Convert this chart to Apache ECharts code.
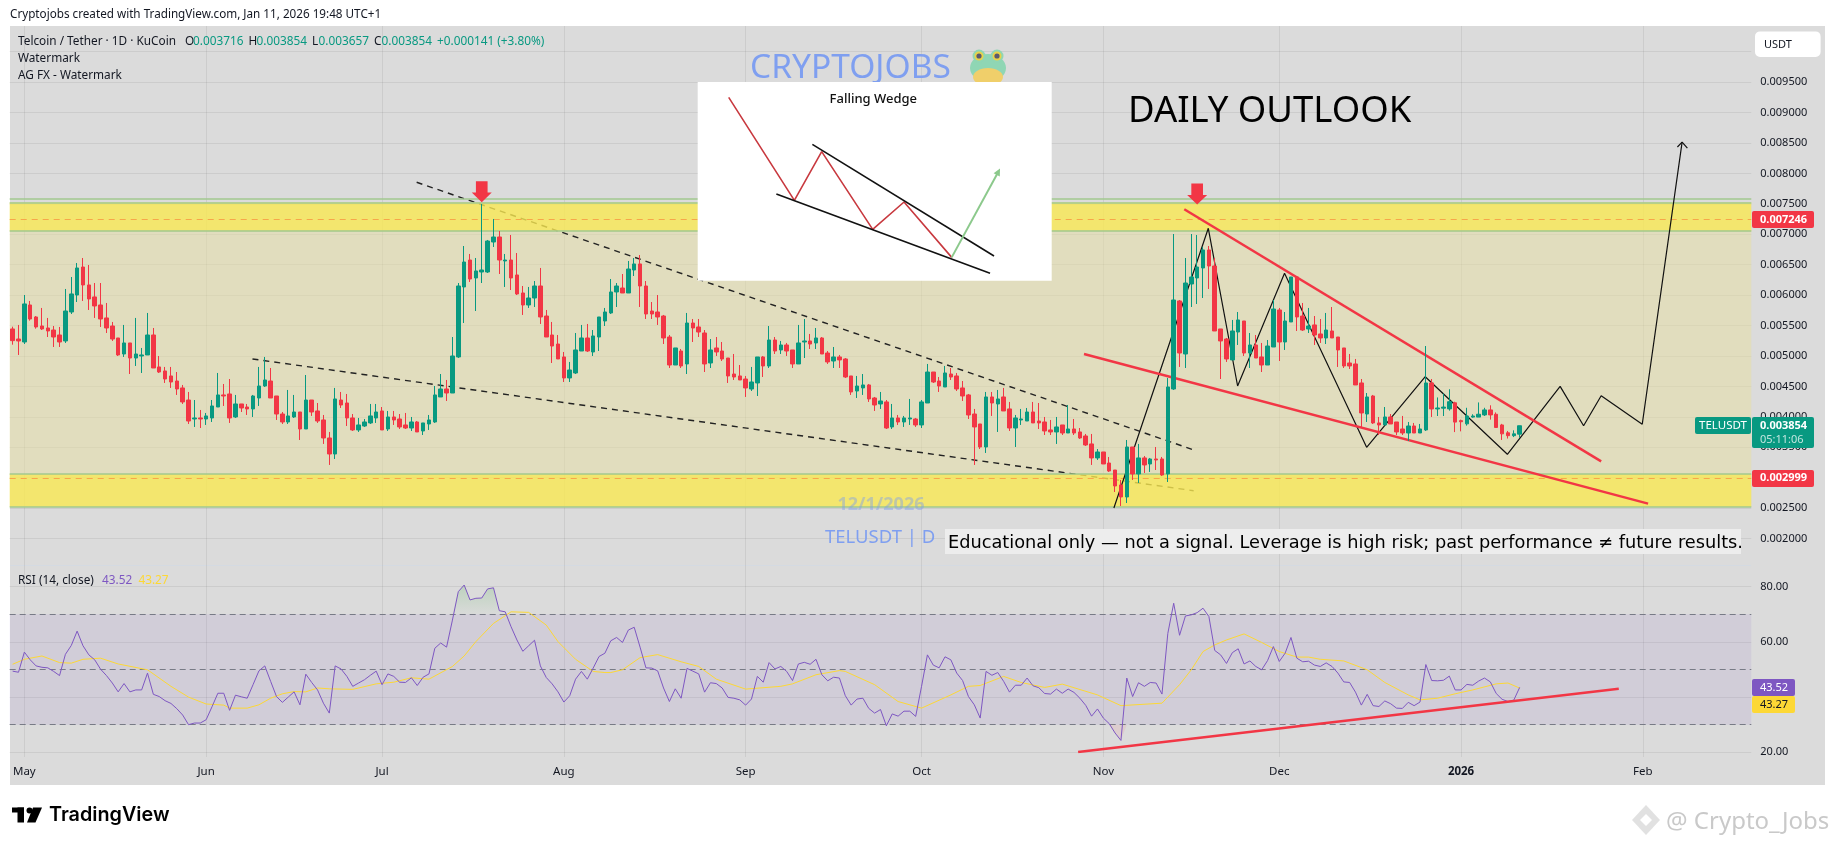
<!DOCTYPE html>
<html>
<head>
<meta charset="utf-8">
<title>TELUSDT daily outlook</title>
<script src="https://cdn.jsdelivr.net/npm/echarts@6/dist/echarts.min.js"></script>
<style>
  html, body { margin: 0; padding: 0; background: #fff; }
  #chart { width: 1835px; height: 845px; }
</style>
</head>
<body>
<div id="chart"></div>
<script>
// candles, in millionths of a USDT, first candle is Apr 29 2025
var opens = [
5444,5279,5230,5838,5641,5493,5460,5427,5345,5247,
5723,6002,6462,6167,5970,5838,5625,5493,5296,5033,
5214,4967,5000,5017,5345,4820,4754,4672,4589,4475,
4277,3965,3982,3965,3982,4162,4360,4376,3998,4212,
4162,4130,4310,4507,4589,4343,4047,3916,3998,4080,
3801,4277,4097,3949,3653,3390,4277,4228,3982,3785,
3850,3900,3982,4097,3801,3998,3965,3867,3817,3916,
3768,3883,3916,4327,4458,4392,4984,6134,6577,6282,
6380,6380,6873,6955,6561,6577,6331,6035,5838,5953,
6150,5657,5345,5197,4984,4639,4721,5082,5296,5066,
5312,5575,5707,6052,6117,6035,6413,6512,6150,5739,
5723,5657,5312,4852,5082,4869,5542,5477,5378,4885,
5132,5082,4967,4704,4672,4622,4458,4557,4984,4836,
5263,5099,5181,5099,4869,5230,5247,5214,5296,5049,
4918,4984,4951,4672,4425,4475,4524,4310,4212,4245,
3834,3982,3916,3965,3965,3867,4228,4737,4589,4491,
4704,4672,4475,4360,4047,3883,3505,4327,4212,4327,
4130,3817,3949,3932,4080,3932,3916,3785,3752,3867,
3735,3801,3752,3686,3555,3325,3423,3242,3127,2881,
2684,3505,3062,3325,3226,3308,3308,3062,4458,5904,
5033,6183,6282,6446,6742,6479,5444,5279,4935,5394,
5575,5049,5181,4984,4852,5148,5756,5230,5559,6298,
5657,5444,5510,5362,5296,5411,5312,5132,4885,4869,
4557,4047,4343,3900,3867,3998,3916,3801,3735,3850,
3735,3785,4557,4130,4143,4131,4231,3938,3885,3996,
3996,4032,4114,4043,3867,3738,3691,3716];
var closes = [
5252,5247,5855,5608,5477,5444,5411,5312,5230,5739,
6019,6446,6167,5937,5822,5608,5460,5279,5017,5214,
4967,5033,5017,5345,4803,4737,4622,4573,4458,4245,
3932,3982,3965,4015,4179,4360,4343,3982,4212,4146,
4130,4343,4507,4606,4310,4047,3916,4015,4080,3801,
4277,4080,3932,3653,3390,4294,4195,3982,3785,3867,
3916,4015,4080,3785,3998,3949,3834,3817,3916,3752,
3900,3949,4360,4458,4392,5000,6150,6544,6265,6397,
6413,6889,6955,6577,6577,6282,6019,5838,5953,6150,
5641,5312,5164,4951,4639,4770,5099,5296,5082,5329,
5641,5723,6052,6150,6035,6429,6512,6150,5690,5690,
5641,5296,4852,5132,4836,5542,5460,5394,4869,5099,
5066,4951,4672,4655,4606,4475,4573,4984,4836,5263,
5082,5181,5082,4869,5214,5247,5197,5296,5033,4902,
4984,4935,4655,4409,4507,4524,4294,4195,4261,3817,
3982,3916,3982,3982,3867,4245,4737,4573,4507,4721,
4655,4458,4343,4031,3834,3505,4327,4228,4294,4097,
3817,3982,3965,4080,3900,3900,3768,3752,3834,3735,
3801,3735,3653,3538,3325,3423,3226,3111,2865,2684,
3505,3062,3325,3210,3308,3292,3045,4491,5920,5049,
6199,6298,6462,6742,6479,5411,5247,4951,5411,5592,
5049,5181,4967,4852,5164,5772,5230,5575,6298,5641,
5427,5493,5345,5296,5427,5296,5099,4836,4836,4524,
4064,4327,3900,3867,3998,3883,3752,3735,3850,3735,
3801,4557,4130,4146,4161,4249,3914,3920,4014,4014,
4043,4114,4032,3826,3721,3691,3721,3854];
var lows = [
5186,5017,5197,5581,5449,5427,5312,5148,5148,5214,
5690,5887,5904,5756,5625,5477,5378,5247,5000,4984,
4704,4836,4721,5017,4803,4721,4557,4475,4360,4212,
3883,3834,3817,3867,3916,4162,4179,3900,3982,4080,
4031,3998,4179,4491,4310,3949,3883,3883,3982,3620,
3801,4015,3900,3555,3210,3308,4146,3850,3768,3752,
3834,3883,3900,3785,3768,3867,3801,3801,3768,3752,
3702,3785,3900,4327,4261,4392,4967,5542,6216,5739,
6199,6364,6791,6347,6134,6084,6002,5674,5789,5805,
5526,5312,4885,4951,4573,4573,4704,5082,5066,5000,
5082,5493,5690,5805,6035,6035,6314,5805,5608,5608,
5510,5197,4803,4852,4803,4704,5230,5312,4737,4803,
5000,4918,4557,4606,4606,4327,4425,4343,4655,4803,
5033,5033,5000,4803,4869,4967,5115,5115,5033,4869,
4803,4803,4639,4360,4310,4360,4245,4097,4130,3801,
3801,3867,3834,3867,3834,3817,4228,4557,4409,4491,
4606,4425,4261,3965,3210,3472,3407,4015,3752,4097,
3768,3505,3867,3932,3900,3801,3702,3702,3555,3702,
3735,3702,3637,3522,3210,3292,3226,3095,2766,2536,
2585,2963,2914,3078,3095,3127,3029,2930,4442,4820,
4803,5805,5854,5953,6101,5411,4622,4902,4935,5181,
5000,4803,4967,4737,4852,5148,4918,5099,5559,5411,
5411,5378,5181,5214,5197,5296,4820,4803,4787,4524,
3834,3916,3883,3702,3867,3883,3702,3702,3604,3735,
3735,3768,3998,4014,4014,4102,3750,3762,3856,3985,
3996,4014,3955,3826,3621,3644,3668,3657];
var highs = [
5482,5510,6002,5904,5657,5789,5625,5493,5477,6101,
6298,6528,6610,6495,6199,6199,5871,5559,5296,5510,
5214,5625,5132,5707,5460,5000,4820,4820,4737,4524,
4409,4277,4113,4064,4277,4721,4540,4622,4360,4212,
4212,4360,4820,4984,4803,4343,4080,4442,4360,4080,
4688,4277,4228,4031,3752,4475,4409,4376,4047,3982,
3965,4212,4212,4162,4097,4097,4047,4064,3998,3932,
3900,4031,4507,4704,4606,5312,6199,6807,6676,6610,
7497,6906,7251,7054,6676,6988,6692,6150,6134,6232,
6446,5756,5559,5345,5066,4902,5378,5510,5526,5427,
5641,5789,6265,6199,6347,6561,6610,6659,6232,5887,
6002,5674,5345,5132,5115,5707,5608,5608,5427,5279,
5312,5230,4967,5033,4852,4672,4820,4984,5000,5493,
5312,5247,5214,5099,5510,5608,5362,5460,5312,5082,
5148,5017,4967,4672,4672,4704,4540,4327,4409,4277,
4212,4031,4015,4294,3982,4277,4869,4737,4655,4836,
4803,4721,4589,4376,4130,3883,4409,4409,4442,4475,
4245,4031,4130,4146,4245,4228,3998,3949,3998,3867,
4195,3965,3817,3719,3719,3472,3423,3341,3127,2963,
3620,3505,3555,3357,3325,3505,3341,4639,7004,5920,
6610,7004,6988,6791,6807,6610,5444,5296,5592,5723,
5575,5378,5345,5214,5263,5920,5789,5723,6298,6298,
5871,5789,5657,5608,5707,5805,5312,5132,5033,4951,
4622,4392,4360,3998,4162,4047,3916,4015,3916,3900,
3883,5164,4622,4319,4384,4454,4249,3955,4149,4043,
4237,4149,4190,4073,3885,3768,3779,3854];

var rsi = [
49.4,49.0,56.3,53.5,51.3,50.8,50.6,49.3,47.8,55.5,
58.7,63.9,58.6,55.3,53.5,50.1,47.8,45.1,41.9,44.9,
41.9,42.6,42.6,48.7,41.0,40.2,38.7,37.7,35.8,33.5,
30.0,30.6,30.6,31.8,36.5,41.4,41.4,35.2,40.7,40.1,
39.6,44.5,49.5,51.3,45.7,40.2,38.1,40.0,41.9,37.2,
48.3,45.3,42.6,37.8,34.2,51.3,50.2,47.5,43.9,45.1,
46.3,47.9,49.4,44.5,48.4,47.5,45.4,45.3,47.0,44.2,
47.2,48.4,57.7,59.6,58.1,67.9,78.2,80.6,75.2,75.8,
75.9,79.2,79.6,71.3,70.9,65.5,60.7,56.6,58.6,60.6,
51.3,47.1,44.8,41.9,38.2,40.5,46.5,49.3,46.5,50.5,
54.7,55.9,60.4,61.6,59.8,64.3,65.3,58.1,50.6,50.5,
49.5,43.3,38.4,43.0,39.6,50.4,49.4,48.4,41.8,45.2,
44.9,43.3,39.9,39.6,39.0,37.1,39.3,47.5,45.4,52.5,
50.2,51.1,49.3,46.0,52.0,52.6,51.9,53.7,48.1,45.9,
47.2,46.9,40.5,37.1,39.3,39.6,35.9,34.2,35.5,29.6,
33.9,33.1,34.9,34.9,33.0,43.9,55.3,51.6,50.6,54.6,
53.5,48.7,46.0,40.2,37.2,32.4,49.3,47.9,48.9,45.7,
41.8,44.3,44.3,46.9,44.1,43.4,41.3,41.1,42.9,41.4,
42.9,41.7,39.6,37.0,33.1,35.7,32.4,30.4,27.0,24.3,
46.9,40.2,45.2,43.9,45.3,45.1,41.1,63.1,74.0,62.4,
69.4,69.8,70.6,72.2,69.2,56.9,55.3,52.2,56.1,57.5,
52.0,53.1,51.1,49.9,53.2,58.3,52.9,55.9,61.6,54.1,
52.8,53.0,51.6,51.1,52.4,51.1,48.7,45.5,45.3,41.8,
37.1,41.0,36.9,36.6,38.6,37.6,36.0,35.9,38.1,36.9,
38.2,51.8,46.0,45.9,46.1,47.6,42.6,42.6,44.6,44.3,
45.8,46.9,45.5,41.3,39.2,38.4,38.9,43.52];

// yellow average, read at the days where it bends (day 0 = May 1 2025)
var rsiMaDays = [-2,0,3,6,8,10,13,16,21,25,28,31,34,35,38,40,42,44,46,48,50,52,56,60,63,66,69,73,75,77,80,83,86,89,91,94,97,99,100,102,105,108,112,115,118,123,129,131,135,139,140,145,149,153,158,161,163,167,170,174,177,183,187,194,197,199,201,203,205,208,211,214,217,219,221,225,229,232,236,238,241,244,247,251,253,255];
var rsiMaValues = [51.9,53.7,54.9,52.5,52.3,53.7,54.1,52.0,49.9,43.9,40.0,37.5,37.1,36.0,36.0,37.2,39.6,41.2,42.0,41.9,43.3,43.0,42.8,44.8,45.4,47.0,46.5,51.1,54.9,60.1,66.7,70.9,70.7,66.1,60.1,53.7,49.3,48.9,48.9,49.9,54.3,55.4,52.8,51.1,46.5,42.9,43.9,44.8,48.1,49.6,49.3,44.5,38.4,36.0,40.8,43.9,44.2,47.5,45.3,43.5,44.7,40.8,36.9,37.8,44.5,49.9,56.5,58.9,60.7,62.9,59.8,56.5,54.5,54.5,53.7,53.1,49.9,45.3,40.8,39.0,39.6,41.2,42.6,44.8,45.1,43.27];

var monthDays = [0,31,61,92,123,153,184,214,245,276];
var monthLabels = ['May','Jun','Jul','Aug','Sep','Oct','Nov','Dec','2026','Feb'];

// zones and levels on the price axis
var upperZone = [0.00705, 0.00752];
var lowerZone = [0.00252, 0.00306];
var zoneEdges = [0.00252, 0.00306, 0.00705, 0.00752, 0.00758];
var alertLevels = [0.002999, 0.007246];
var rsiLevels = [70, 50, 30];

// drawings: [day, price]
var dashedUpper = [[66.9, 0.007854], [199.8, 0.003444]];
var dashedLower = [[38.9, 0.004951], [199.4, 0.002787]];
var wedgeUpper = [[197.8, 0.00741], [268.9, 0.003269]];
var wedgeLower = [[180.7, 0.005033], [276.9, 0.002575]];
var projection = [[185.8,0.002503],[201.9,0.007098],[206.9,0.004507],[214.9,0.006359],[228.9,0.0035],[238.9,0.00466],[252.9,0.003385],[261.9,0.0045],[265.9,0.003855],[268.9,0.004348],[275.9,0.003878],[282.7,0.008514]];
var arrowHead = [[281.9,0.008434],[282.7,0.008514],[283.6,0.008414]];
var topArrows = [[78, 0.0077], [200, 0.00766]];
var rsiTrend = [[179.7, 20.1], [271.9, 43.04]];

// the falling wedge sketch, in its own small axes
var sketchRed = [[93,46],[290,355],[372,209],[525,442],[619,360],[762,526]];
var sketchTop = [[344,187],[889,522]];
var sketchBottom = [[236,336],[877,574]];
var sketchGreen = [[762,526],[902,269]];

var UP = '#089981', DOWN = '#f23645', TEXT = '#131722', FONT = '"Noto Sans", sans-serif';
var GRIDLINE = 'rgba(110,110,110,0.13)';

// one slot per day, Apr 29 2025 up to the right edge
var dayAxis = [];
for (var d = -2; d <= 294; d++) {
  var dt = new Date(Date.UTC(2025, 4, 1 + d));
  dayAxis.push(dt.toISOString().slice(0, 10));
}

var candleData = opens.map(function (o, i) {
  return [o / 1e6, closes[i] / 1e6, lows[i] / 1e6, highs[i] / 1e6];
});
var rsiData = rsi.map(function (v, i) { return [i - 2, v]; });
var rsiMaData = rsiMaDays.map(function (d, i) { return [d, rsiMaValues[i]]; });

var LEFT = 9.7, WIDTH = 1741.6;

function drawing(data, color, width, z, dash) {
  return {
    type: 'line', xAxisIndex: 1, yAxisIndex: 0, data: data, showSymbol: false, silent: true, z: z,
    lineStyle: { color: color, width: width, type: dash || 'solid' }
  };
}
function sketchLine(data, color, width) {
  return {
    type: 'line', xAxisIndex: 4, yAxisIndex: 3, data: data, showSymbol: false, silent: true, z: 11,
    lineStyle: { color: color, width: width }
  };
}
function txt(x, y, text, size, fill, extra) {
  var style = { x: x, y: y, text: text, fill: fill, font: (extra && extra.weight || 'normal') + ' ' + size + 'px ' + (extra && extra.family || FONT),
    textAlign: extra && extra.align || 'left', textVerticalAlign: 'middle' };
  return { type: 'text', z: extra && extra.z || 20, silent: true, style: style };
}
function box(x, y, w, h, fill, r, z) {
  return { type: 'rect', z: z === undefined ? 20 : z, silent: true, shape: { x: x, y: y, width: w, height: h, r: r || 0 }, style: { fill: fill } };
}
function circle(cx, cy, r, fill, z) {
  return { type: 'circle', z: z, silent: true, shape: { cx: cx, cy: cy, r: r }, style: { fill: fill } };
}
function ellipse(cx, cy, rx, ry, fill, z) {
  return { type: 'ellipse', z: z, silent: true, shape: { cx: cx, cy: cy, rx: rx, ry: ry }, style: { fill: fill } };
}

var LEGEND = 11.8;
var graphics = [
  box(10, 26, 1815, 759, '#dbdbdb', 0, -5),
  // the line between the two panes
  box(10, 565, 1741, 1, '#d4dae2', 0, -4),
  txt(10, 15, 'Cryptojobs created with TradingView.com, Jan 11, 2026 19:48 UTC+1', 11.7, TEXT),
  txt(18, 41.7, 'Telcoin / Tether · 1D · KuCoin', LEGEND, TEXT),
  txt(185, 41.7, 'O', LEGEND, TEXT), txt(193, 41.7, '0.003716', LEGEND, UP),
  txt(248.5, 41.7, 'H', LEGEND, TEXT), txt(256.5, 41.7, '0.003854', LEGEND, UP),
  txt(312, 41.7, 'L', LEGEND, TEXT), txt(318.5, 41.7, '0.003657', LEGEND, UP),
  txt(374, 41.7, 'C', LEGEND, TEXT), txt(381.5, 41.7, '0.003854', LEGEND, UP),
  txt(437, 41.7, '+0.000141 (+3.80%)', LEGEND, UP),
  txt(18, 58.7, 'Watermark', LEGEND, TEXT),
  txt(18, 76, 'AG FX - Watermark', LEGEND, TEXT),

  txt(750, 68, 'CRYPTOJOBS', 33.5, '#7f9ff0', { z: 9 }),
  ellipse(988, 68, 18, 14, '#8fd6b4', 9),
  circle(979, 56, 6.5, '#8fd6b4', 9), circle(997, 56, 6.5, '#8fd6b4', 9),
  circle(979, 56, 4.5, '#e8d24a', 9), circle(997, 56, 4.5, '#e8d24a', 9),
  circle(979, 56, 2.6, '#5b5a6e', 9), circle(997, 56, 2.6, '#5b5a6e', 9),
  ellipse(988, 77, 15, 9, '#f0cf6a', 9),
  box(697.7, 82, 354, 198.7, '#ffffff', 0, 10),
  txt(873.3, 99, 'Falling Wedge', 13, '#111', { align: 'center', z: 12, weight: '500' }),

  txt(1128, 112, 'DAILY OUTLOOK', 36.5, '#000'),

  txt(881, 505, '12/1/2026', 18, 'rgba(126,160,235,0.45)', { align: 'center', weight: 'bold', z: 5 }),
  txt(825, 538, 'TELUSDT | D', 18.5, '#7f9ff0', { z: 5 }),
  box(945, 529, 796, 25, '#ededed', 0, 15),
  txt(948, 543, 'Educational only — not a signal. Leverage is high risk; past performance ≠ future results.', 17.75, '#000', { family: '"DejaVu Sans", sans-serif' }),

  box(1755, 31.4, 65.6, 25.6, '#ffffff', 5),
  txt(1764, 44.6, 'USDT', 11, TEXT),
  box(1752, 211, 62, 17, DOWN, 2),
  txt(1760, 219.5, '0.007246', 11, '#fff', { weight: 'bold' }),
  box(1752, 470, 62, 17, DOWN, 2),
  txt(1760, 478.3, '0.002999', 11, '#fff', { weight: 'bold' }),
  box(1695, 417, 56, 17, UP, 2),
  txt(1723, 425.7, 'TELUSDT', 11.5, '#fff', { align: 'center' }),
  box(1752, 417, 62, 31, UP, 2),
  txt(1760, 425.7, '0.003854', 11, '#fff', { weight: 'bold' }),
  txt(1760, 439.5, '05:11:06', 11, 'rgba(255,255,255,0.75)'),

  txt(18, 580.7, 'RSI (14, close)', LEGEND, TEXT),
  txt(102, 580.7, '43.52', LEGEND, '#7e57c2'),
  txt(138.4, 580.7, '43.27', LEGEND, '#fdd835'),
  box(1752, 679, 43, 17, '#7e57c2', 2),
  txt(1760, 687.5, '43.52', 11, '#fff'),
  box(1752, 696, 43, 17, '#fdd835', 2),
  txt(1760, 704.5, '43.27', 11, TEXT),

  // TradingView mark and name
  box(12, 807.5, 12, 5, '#000', 0),
  box(17.5, 807.5, 6.5, 15, '#000', 0),
  circle(29.5, 810.5, 3, '#000', 20),
  { type: 'polygon', z: 20, silent: true, shape: { points: [[33, 807.5], [42, 807.5], [35.5, 822.5], [27, 822.5]] }, style: { fill: '#000' } },
  txt(49, 815, 'TradingView', 19.8, '#000', { weight: '600', family: 'Inter, sans-serif' }),

  // site mark, lower right
  { type: 'polygon', z: 20, silent: true, shape: { points: [[1646, 805], [1660, 820], [1646, 835], [1632, 820]] }, style: { fill: 'rgba(200,200,200,0.55)' } },
  { type: 'polygon', z: 20, silent: true, shape: { points: [[1646, 814], [1652, 820], [1646, 826], [1640, 820]] }, style: { fill: '#fff' } },
  txt(1666, 822, '@ Crypto_Jobs', 24, '#c9c9c9')
];

var chart = echarts.init(document.getElementById('chart'));

chart.setOption({
  animation: false,
  backgroundColor: '#ffffff',
  textStyle: { fontFamily: FONT },
  grid: [
    { left: LEFT, width: WIDTH, top: 51.65, height: 486.95 },
    { left: LEFT, width: WIDTH, top: 586.7, height: 165.6 },
    { left: LEFT, width: WIDTH, top: 26, height: 731 },
    { left: 697.7, width: 354, top: 82, height: 198.7 }
  ],
  xAxis: [
    { type: 'category', gridIndex: 0, data: dayAxis, show: false },
    { type: 'value', gridIndex: 0, min: -2.5, max: 294.5, show: false },
    { type: 'value', gridIndex: 1, min: -2.5, max: 294.5, show: false },
    { type: 'value', gridIndex: 2, min: -2.5, max: 294.5, position: 'bottom',
      axisLine: { show: false }, axisTick: { show: false }, splitLine: { show: false },
      axisLabel: {
        customValues: monthDays, margin: 9, color: TEXT, fontSize: 11.5,
        formatter: function (v) {
          var label = monthLabels[monthDays.indexOf(v)];
          return label === '2026' ? '{year|2026}' : label;
        },
        rich: { year: { fontWeight: 'bold', fontSize: 11.5, color: TEXT } }
      } },
    { type: 'value', gridIndex: 3, min: 0, max: 1062, show: false }
  ],
  yAxis: [
    { type: 'value', gridIndex: 0, position: 'right', min: 0.002, max: 0.01, interval: 0.0005,
      axisLine: { show: false }, axisTick: { show: false },
      splitLine: { lineStyle: { color: GRIDLINE, width: 1 } },
      axisLabel: { margin: 9, color: TEXT, fontSize: 11, showMaxLabel: false,
        formatter: function (v) { return v.toFixed(6); } } },
    { type: 'value', gridIndex: 1, position: 'right', min: 20, max: 80, interval: 20,
      axisLine: { show: false }, axisTick: { show: false },
      splitLine: { lineStyle: { color: GRIDLINE, width: 1 } },
      axisLabel: { margin: 9, color: TEXT, fontSize: 11,
        formatter: function (v) { return v.toFixed(2); } } },
    { type: 'value', gridIndex: 2, min: 0, max: 1, show: false },
    { type: 'value', gridIndex: 3, min: 0, max: 596, inverse: true, show: false }
  ],
  graphic: { elements: graphics },
  series: [
    // month lines through both panes
    { type: 'line', xAxisIndex: 3, yAxisIndex: 2, data: [], silent: true, z: 0.2,
      markLine: { silent: true, symbol: 'none', z: 0.2, label: { show: false },
        lineStyle: { color: GRIDLINE, type: 'solid', width: 1 },
        data: monthDays.map(function (d) { return { xAxis: d }; }) } },

    // khaki range sits under the dashed lines, the yellow zones over them
    { type: 'line', xAxisIndex: 1, yAxisIndex: 0, data: [], silent: true, z: 0.4,
      markArea: { silent: true, z: 0.4, data: [
        [{ yAxis: lowerZone[1], itemStyle: { color: 'rgba(231,223,161,0.5)' } }, { yAxis: upperZone[0] }]
      ] } },

    drawing(dashedUpper, '#222', 1.4, 0.5, [6, 5]),
    drawing(dashedLower, '#222', 1.4, 0.5, [6, 5]),

    { type: 'line', xAxisIndex: 1, yAxisIndex: 0, data: [], silent: true, z: 1,
      markArea: { silent: true, z: 1, data: [
        [{ yAxis: lowerZone[0], itemStyle: { color: 'rgba(249,232,83,0.8)' } }, { yAxis: lowerZone[1] }],
        [{ yAxis: upperZone[0], itemStyle: { color: 'rgba(249,232,83,0.8)' } }, { yAxis: upperZone[1] }]
      ] },
      markLine: { silent: true, symbol: 'none', z: 1.2, precision: 6, label: { show: false },
        data: zoneEdges.map(function (v) {
          return { yAxis: v, lineStyle: { color: '#a2c88f', type: 'solid', width: 1.6 } };
        }).concat(alertLevels.map(function (v) {
          return { yAxis: v, lineStyle: { color: '#f7a64a', type: [6, 5], width: 1 } };
        })) } },

    drawing(projection, '#111', 1.2, 2),
    drawing(arrowHead, '#111', 1.2, 2),
    drawing(wedgeUpper, DOWN, 2.5, 2.2),
    drawing(wedgeLower, DOWN, 2.5, 2.2),

    { type: 'candlestick', xAxisIndex: 0, yAxisIndex: 0, data: candleData, barWidth: 4, z: 3, silent: true,
      itemStyle: { color: UP, color0: DOWN, borderColor: UP, borderColor0: DOWN, borderWidth: 1 } },

    { type: 'scatter', xAxisIndex: 1, yAxisIndex: 0, data: topArrows, z: 4, silent: true,
      symbol: 'path://M2.5,0 H9.5 V7 H12 L6,13 L0,7 H2.5 Z', symbolSize: [20, 21], itemStyle: { color: DOWN, opacity: 1 } },

    // RSI pane
    { type: 'line', xAxisIndex: 2, yAxisIndex: 1, data: [], silent: true, z: 1,
      markArea: { silent: true, z: 1, itemStyle: { color: 'rgba(126,87,194,0.1)' },
        data: [[{ yAxis: rsiLevels[2] }, { yAxis: rsiLevels[0] }]] },
      markLine: { silent: true, symbol: 'none', z: 1.2, label: { show: false },
        lineStyle: { color: '#787b86', type: [6, 4], width: 1 },
        data: rsiLevels.map(function (v) { return { yAxis: v }; }) } },
    { type: 'line', xAxisIndex: 2, yAxisIndex: 1, silent: true, z: 1.5, showSymbol: false, clip: false,
      data: rsiData.slice(74, 84).map(function (p) { return [p[0], Math.max(p[1], 70)]; }),
      lineStyle: { width: 0 },
      areaStyle: { origin: 70, color: new echarts.graphic.LinearGradient(0, 0, 0, 1, [
        { offset: 0, color: 'rgba(76,175,80,0.3)' }, { offset: 1, color: 'rgba(76,175,80,0.02)' }]) } },
    { type: 'line', xAxisIndex: 2, yAxisIndex: 1, silent: true, z: 1.5, showSymbol: false,
      data: rsiData.slice(186, 191).map(function (p) { return [p[0], Math.min(p[1], 30)]; }),
      lineStyle: { width: 0 },
      areaStyle: { origin: 30, color: 'rgba(242,54,69,0.12)' } },
    { type: 'line', xAxisIndex: 2, yAxisIndex: 1, data: rsiMaData, showSymbol: false, silent: true, z: 2, clip: false,
      lineStyle: { color: '#fdd835', width: 1 } },
    { type: 'line', xAxisIndex: 2, yAxisIndex: 1, data: rsiData, showSymbol: false, silent: true, z: 3, clip: false,
      lineStyle: { color: '#7e57c2', width: 1 } },
    { type: 'line', xAxisIndex: 2, yAxisIndex: 1, data: rsiTrend, showSymbol: false, silent: true, z: 4,
      lineStyle: { color: DOWN, width: 2.5 } },

    // sketch on the white card
    sketchLine(sketchRed, '#c8393f', 1.6),
    sketchLine(sketchTop, '#111', 1.6),
    sketchLine(sketchBottom, '#111', 1.6),
    {
      type: 'line', xAxisIndex: 4, yAxisIndex: 3, silent: true, z: 11, showSymbol: true,
      data: sketchGreen.map(function (p, i) {
        return i === 1 ? { value: p, symbol: 'triangle', symbolSize: 7, symbolRotate: -28 } : { value: p, symbol: 'none' };
      }),
      itemStyle: { color: '#8cc98c' },
      lineStyle: { color: '#8cc98c', width: 2 }
    }
  ]
});
</script>
</body>
</html>
